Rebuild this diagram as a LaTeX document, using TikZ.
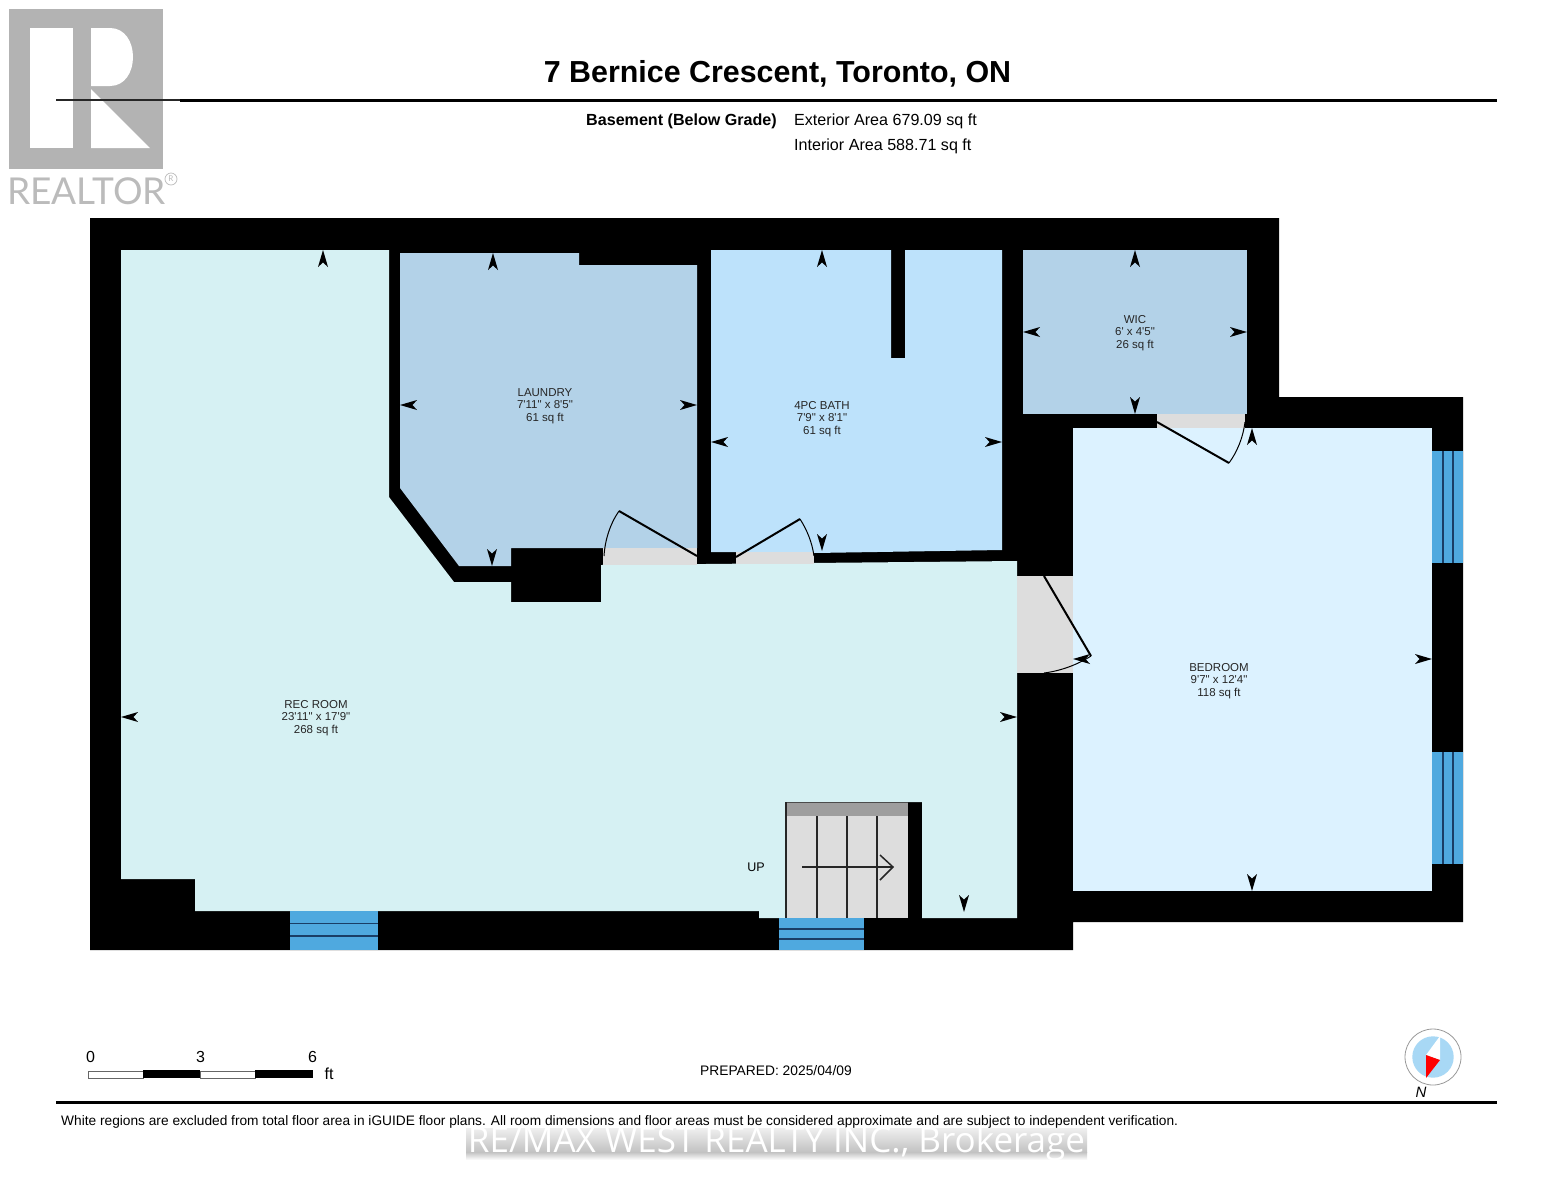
\documentclass[tikz,border=0pt]{standalone}
\usepackage{fontspec}
\newfontfamily\plansans{Liberation Sans}
\newfontfamily\markfont{Open Sans}
\newfontfamily\logofont{Lato}

\definecolor{recfill}{HTML}{D6F1F3}
\definecolor{laundryfill}{HTML}{B3D2E8}
\definecolor{bathfill}{HTML}{BDE2FB}
\definecolor{bedfill}{HTML}{DCF2FF}
\definecolor{glassfill}{HTML}{4FA9DF}
\definecolor{glassline}{HTML}{1A3E66}
\definecolor{doorfill}{HTML}{DDDDDD}
\definecolor{logogray}{HTML}{B3B3B3}
\definecolor{compassfill}{HTML}{A8D8F5}

\tikzset{
  planfont/.style={font=\plansans\fontsize{#1}{#1}\selectfont,inner sep=0pt},
  roomlabel/.style={font=\plansans\fontsize{11.5}{12.6}\selectfont,inner sep=0pt,align=center,text=black!85},
  doorleaf/.style={line width=2pt,black},
  doorarc/.style={line width=1pt,black}
}

\begin{document}
\begin{tikzpicture}[x=1pt,y=-1pt]
\useasboundingbox (0,0) rectangle (1553,1200);
\fill[white] (0,0) rectangle (1553,1200);

% header
\fill[logogray] (9,9) rectangle (163,169);
\fill[white] (30,28) rectangle (73,148);
\fill[white] (91,28) -- (110,28) .. controls (125,28) and (133,42) .. (133,57)
  .. controls (133,72) and (125,86) .. (110,86) -- (91,86) -- cycle;
\fill[white] (91,89) -- (150,148) -- (91,148) -- cycle;
\node[font=\logofont\fontsize{37}{37}\selectfont,text=logogray!90,inner sep=0pt,anchor=west] (realtor) at (7,191) {REALTOR};
\draw[logogray!90,line width=0.7pt] (171,179) circle (6);
\node[font=\logofont\fontsize{8}{8}\selectfont,text=logogray!90,inner sep=0pt] (realtorr) at (171,179) {R};
\draw[black!85,line width=2pt] (56,100) -- (180,100);
\draw[black,line width=3pt] (180,100) -- (1497,100);
\node[font=\plansans\bfseries\fontsize{30.4}{30.4}\selectfont,inner sep=0pt] (title) at (777.5,74) {7 Bernice Crescent, Toronto, ON};
\node[font=\plansans\bfseries\fontsize{16.1}{16.1}\selectfont,inner sep=0pt,anchor=east] (level) at (777,121) {Basement (Below Grade)};
\node[planfont=16.1,anchor=west] (extarea) at (794,121) {Exterior Area 679.09 sq ft};
\node[planfont=16.1,anchor=west] (intarea) at (794,146) {Interior Area 588.71 sq ft};

% walls
\fill[black] (90,218) -- (1279,218) -- (1279,397) -- (1463,397) -- (1463,922)
  -- (1073,922) -- (1073,950) -- (90,950) -- cycle;

% rooms
\fill[recfill] (121,250) -- (389,250) -- (389,497) -- (454,582) -- (511,582) -- (511,602)
  -- (601,602) -- (601,565) -- (1017,561) -- (1017,918) -- (922,918) -- (922,802)
  -- (786,802) -- (786,918) -- (759,918) -- (759,911) -- (195,911) -- (195,879) -- (121,879) -- cycle;
\fill[laundryfill] (400,253) -- (579,253) -- (579,265) -- (697,265) -- (697,548)
  -- (511,548) -- (511,566) -- (459,566) -- (400,488) -- cycle;
\fill[bathfill] (711,250) -- (891,250) -- (891,358) -- (905,358) -- (905,250) -- (1002,250)
  -- (1002,550) -- (814,553) -- (736,553) -- (736,552) -- (711,552) -- cycle;
\fill[laundryfill] (1023,250) rectangle (1247,414);
\fill[bedfill] (1073,428) rectangle (1432,891);

% door openings
\fill[doorfill] (603,548) rectangle (697,565);
\fill[doorfill] (736,552) rectangle (814,564);
\fill[doorfill] (1157,414) rectangle (1245,428);
\fill[doorfill] (1017,576) rectangle (1073,673);

% windows
\foreach \wx/\wy/\wxx/\wyy in {290/911/378/950,779/918/864/950}{
  \fill[glassfill] (\wx,\wy) rectangle (\wxx,\wyy);
}
\foreach \wy/\wyy in {451/563,752/864}{
  \fill[glassfill] (1432,\wy) rectangle (1463,\wyy);
  \draw[glassline,line width=1.6pt] (1443,\wy) -- (1443,\wyy);
  \draw[glassline,line width=1.6pt] (1453,\wy) -- (1453,\wyy);
}
\draw[glassline,line width=1.6pt] (290,923.5) -- (378,923.5);
\draw[glassline,line width=1.6pt] (290,936) -- (378,936);
\draw[glassline,line width=1.6pt] (779,929) -- (864,929);
\draw[glassline,line width=1.6pt] (779,939) -- (864,939);

% stairs
\fill[doorfill] (786,816) rectangle (908,918);
\fill[black!38] (786,802) rectangle (908,816);
\draw[black!70,line width=1pt] (786,802) -- (908,802);
\draw[black!85,line width=1.4pt] (786,802) -- (786,918);
\foreach \sx in {816.5,847,877}{
  \draw[black!85,line width=2pt] (\sx,816) -- (\sx,918);
}
\draw[black!85,line width=1.5pt] (802,867) -- (892,867);
\draw[black!85,line width=1.5pt] (880,855) -- (893,867) -- (880,880);
\node[planfont=12.5] (up) at (756,867) {UP};

% doors
\draw[doorleaf] (697,556) -- (619,511);
\draw[doorarc] (619,511) .. controls (610,524) and (605,540) .. (604,556);
\draw[doorleaf] (736,557) -- (800,519);
\draw[doorarc] (800,519) .. controls (807,530) and (812,542) .. (814,556);
\draw[doorleaf] (1157,422) -- (1229,463);
\draw[doorarc] (1229,463) .. controls (1237,452) and (1243,438) .. (1245,422);
\draw[doorleaf] (1044,576) -- (1091,656);
\draw[doorarc] (1091,656) .. controls (1077,665) and (1060,671) .. (1044,673);

% dimension tips
\foreach \tx/\ty/\ta in {323/250/0,121/717/90,1017/717/-90,964/912/180,
  493/253/0,400/405/90,697/405/-90,492/566/180,
  822/250/0,711/442/90,1002/442/-90,822/551/180,
  1135/250/0,1023/332/90,1247/332/-90,1135/414/180,
  1252/428/0,1252/891/180,1432/659/-90,1073/659/90}{
  \fill[black,shift={(\tx,\ty)},rotate=\ta] (0,0) -- (5,17) -- (0,12.5) -- (-5,17) -- cycle;
}

% room labels
\node[roomlabel] (rec) at (316,718) {REC ROOM\\23'11" x 17'9"\\268 sq ft};
\node[roomlabel] (laundry) at (545,406) {LAUNDRY\\7'11" x 8'5"\\61 sq ft};
\node[roomlabel] (bath) at (822,419) {4PC BATH\\7'9" x 8'1"\\61 sq ft};
\node[roomlabel] (wic) at (1135,333) {WIC\\6' x 4'5"\\26 sq ft};
\node[roomlabel] (bedroom) at (1219,681) {BEDROOM\\9'7" x 12'4"\\118 sq ft};

% scale bar
\draw[black!60,line width=0.6pt,fill=white] (88,1071) rectangle (143,1078);
\fill[black] (143,1070) rectangle (200,1078);
\draw[black!60,line width=0.6pt,fill=white] (200,1071) rectangle (255,1078);
\fill[black] (255,1070) rectangle (313,1078);
\node[planfont=16] (scalezero) at (90.5,1057) {0};
\node[planfont=16] (scalethree) at (200.5,1057) {3};
\node[planfont=16] (scalesix) at (312.5,1057) {6};
\node[planfont=16] (scaleunit) at (329,1073.5) {ft};

\node[planfont=13.8] (prepared) at (776,1070.5) {PREPARED: 2025/04/09};

% compass
\draw[black!40,line width=0.8pt,fill=white] (1433,1057) circle (28);
\fill[compassfill] (1433,1057) circle (20.7);
\fill[white] (1440,1036) -- (1426,1055) -- (1440,1060) -- cycle;
\fill[red] (1426,1055) -- (1440,1060) -- (1426,1078) -- cycle;
\node[font=\plansans\itshape\fontsize{15}{15}\selectfont,inner sep=0pt] (north) at (1421,1092) {N};

% footer
\draw[black,line width=3pt] (56,1102) -- (1497,1102);
\node[planfont=13.72,anchor=west] (disclaimer) at (61,1121.5) {White regions are excluded from total floor area in iGUIDE floor plans. All room dimensions and floor areas must be considered approximate and are subject to independent verification.};
\shade[top color=black!6,bottom color=black!24] (466,1128) rectangle (1087,1152);
\shade[top color=black!24,bottom color=white] (466,1152) rectangle (1087,1160);
\node[font=\markfont\fontsize{35}{35}\selectfont,text=white,inner sep=0pt,anchor=base] (watermark) at (776.5,1152) {RE/MAX WEST REALTY INC., Brokerage};
\end{tikzpicture}
\end{document}
